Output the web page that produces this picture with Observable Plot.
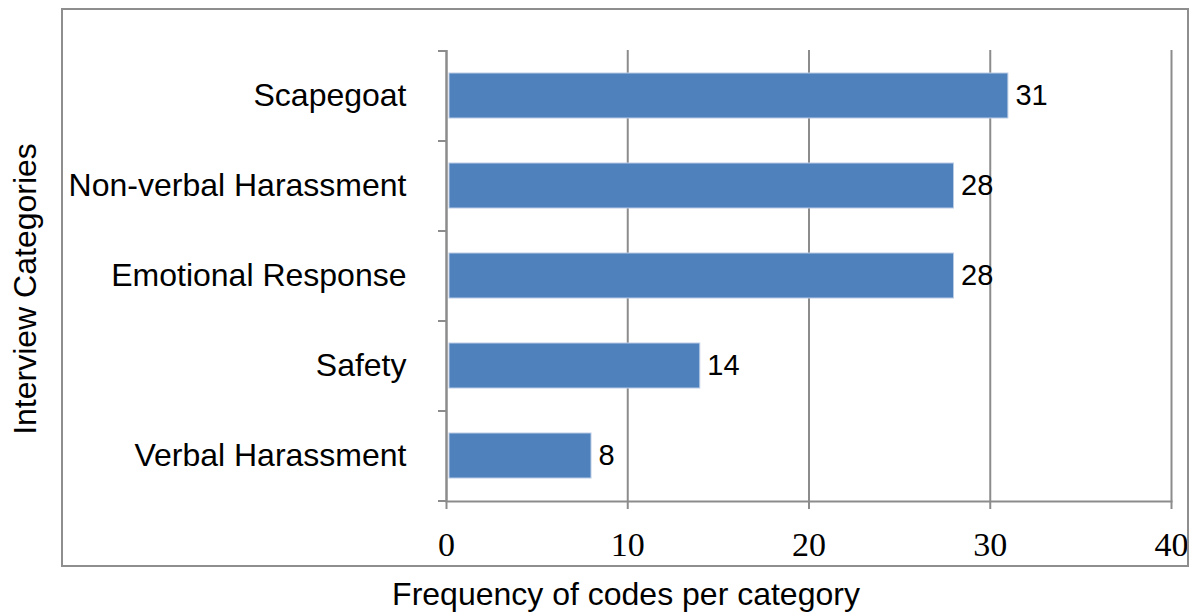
<!DOCTYPE html>
<html><head><meta charset="utf-8">
<script src="https://cdn.jsdelivr.net/npm/d3@7"></script>
<script src="https://cdn.jsdelivr.net/npm/@observablehq/plot@0.6"></script>
<style>
body{margin:0;background:#fff;}
#wrap{position:relative;width:1191px;height:612px;}
#box{position:absolute;left:61px;top:8px;width:1128px;height:559px;border:2px solid #8e8e8e;box-sizing:border-box;pointer-events:none;}
</style></head><body><div id="wrap"><div id="box"></div></div>
<script>
const categories = ["Scapegoat", "Non-verbal Harassment", "Emotional Response", "Safety", "Verbal Harassment"];
const counts = [31, 28, 28, 14, 8];
const xTicks = [0, 10, 20, 30, 40];
const xTitle = "Frequency of codes per category";
const yTitle = "Interview Categories";

const data = categories.map((c, i) => ({category: c, count: counts[i]}));
const gray = "#8c8c8c";
const sans = "'Liberation Sans', Arial, sans-serif";
const serif = "'Liberation Serif', 'Times New Roman', serif";

const chart = Plot.plot({
  width: 1191, height: 612,
  marginLeft: 446, marginRight: 20, marginTop: 50, marginBottom: 111,
  style: {fontFamily: sans, background: "transparent", color: "#000", overflow: "visible"},
  x: {domain: [0, 40]},
  y: {domain: categories, paddingInner: 0.5, paddingOuter: 0.25},
  marks: [
    Plot.gridX(xTicks, {stroke: gray, strokeOpacity: 1, strokeWidth: 2}),
    Plot.frame({anchor: "bottom", stroke: gray, strokeWidth: 2}),
    Plot.ruleX([0], {stroke: gray, strokeWidth: 2}),
    Plot.axisY({tickSize: 8, tickFormat: () => "", label: null, dy: 45, stroke: gray, strokeWidth: 2}),
    Plot.axisY({tickSize: 8, tickFormat: () => "", label: null, dy: -45, stroke: gray, strokeWidth: 2}),
    Plot.axisY({tickSize: 0, tickPadding: 40, fontSize: 32, label: null, fill: "#000"}),
    Plot.axisX(xTicks, {tickSize: 8, tickPadding: 22, fontSize: 34, fontFamily: serif, label: null, stroke: gray, strokeWidth: 2, fill: "#000"}),
    Plot.barX(data, {x: "count", y: "category", fill: "#4F81BD", stroke: "#b9cce4", strokeWidth: 1, insetLeft: 3}),
    Plot.text(data, {x: "count", y: "category", text: d => String(d.count), textAnchor: "start", dx: 7, fontSize: 29, fill: "#000"}),
    Plot.text([xTitle], {frameAnchor: "bottom", textAnchor: "middle", dx: -183, dy: 103, fontSize: 32, fill: "#000"}),
    Plot.text([yTitle], {frameAnchor: "left", textAnchor: "middle", lineAnchor: "middle", rotate: -90, dx: -421, dy: 13, fontSize: 32, fill: "#000"})
  ]
});
document.getElementById("wrap").prepend(chart);
</script>
</body></html>
